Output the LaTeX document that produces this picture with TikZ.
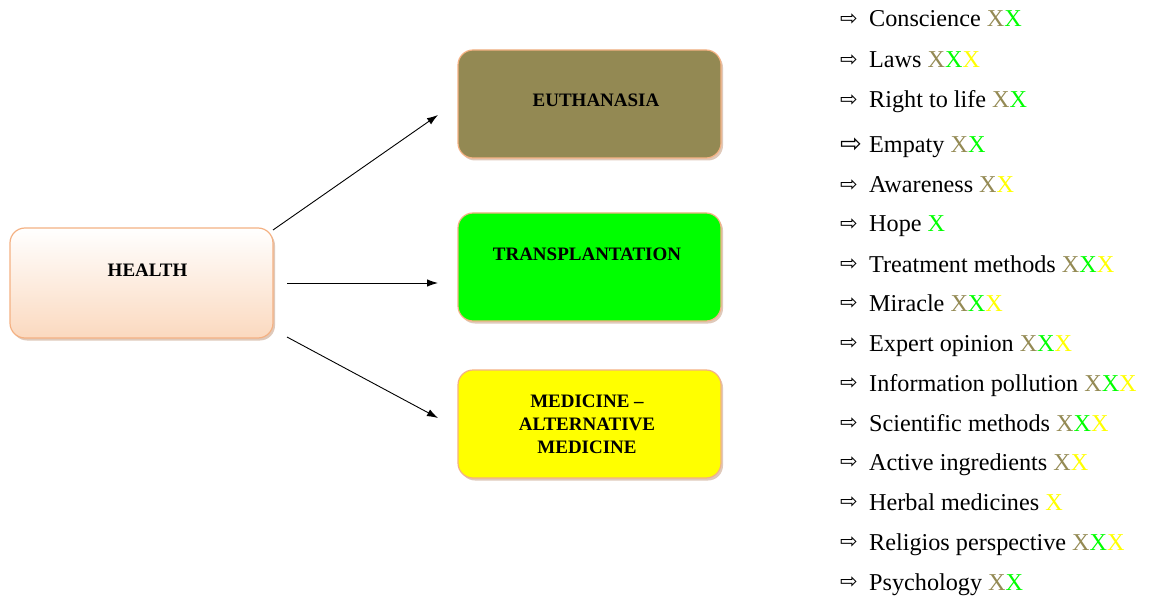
\documentclass[tikz,border=0pt]{standalone}
\usepackage{fontspec}
\setmainfont{Liberation Serif}
\newfontfamily\symfont{DejaVu Sans}
\usetikzlibrary{shadows,arrows.meta}
\definecolor{olivebox}{HTML}{938953}
\definecolor{olivex}{HTML}{948A54}
\definecolor{peachline}{HTML}{F4B183}
\definecolor{peachfill}{HTML}{FBD9BF}
\definecolor{neongreen}{HTML}{00FF00}
\definecolor{neonyellow}{HTML}{FFFF00}
\newcommand{\xo}{\textcolor{olivex}{X}}
\newcommand{\xg}{\textcolor{neongreen}{X}}
\newcommand{\xy}{\textcolor{neonyellow}{X}}
\tikzset{
 topicbox/.style={rounded corners=15pt, draw=peachline, line width=1.2pt,
   minimum width=263pt, minimum height=108pt, inner sep=0pt,
   drop shadow={shadow xshift=2pt, shadow yshift=-2.5pt, opacity=0.55, fill=peachline!60!gray}},
 boxtext/.style={font=\fontsize{19}{23}\selectfont\bfseries, align=center, inner sep=0pt},
 link/.style={line width=0.9pt, -{Latex[length=11pt,width=7.5pt]}},
 itemtext/.style={anchor=base west, inner sep=0pt, font=\fontsize{24.2}{28}\selectfont},
 bulletmark/.style={anchor=center, inner sep=0pt, font=\symfont\fontsize{21}{24}\selectfont},
}
\begin{document}
\begin{tikzpicture}[x=1pt,y=-1pt]
\useasboundingbox (0,0) rectangle (1151,596);
% boxes
\node[topicbox, minimum height=110pt, top color=white, bottom color=peachfill] (health) at (141.5,283) {};
\node[topicbox, fill=olivebox] (euth) at (589.5,104) {};
\node[topicbox, fill=neongreen] (trans) at (589.5,267) {};
\node[topicbox, fill=neonyellow] (med) at (589.5,424) {};
% box texts
\node[boxtext] (healthtxt) at (147.5,270) {HEALTH};
\node[boxtext] (euthtxt) at (596,100) {EUTHANASIA};
\node[boxtext] (transtxt) at (587,254) {TRANSPLANTATION};
\node[boxtext] (medtxt) at (587,424) {MEDICINE –\\ALTERNATIVE\\MEDICINE};
% connectors
\coordinate (s1) at (273,230);
\coordinate (e1) at (438,115);
\coordinate (s2) at (287,283);
\coordinate (e2) at (438,283);
\coordinate (s3) at (287,337);
\coordinate (e3) at (438,418);
\draw[link] (s1) -- (e1);
\draw[link] (s2) -- (e2);
\draw[link] (s3) -- (e3);
% list
\foreach \i/\y/\t in {
 1/27/{Conscience \xo\xg},
 2/68/{Laws \xo\xg\xy},
 3/108/{Right to life \xo\xg},
 5/193/{Awareness \xo\xy},
 6/232/{Hope \xg},
 7/272/{Treatment methods \xo\xg\xy},
 8/311/{Miracle \xo\xg\xy},
 9/351/{Expert opinion \xo\xg\xy},
 10/391/{Information pollution \xo\xg\xy},
 11/431/{Scientific methods \xo\xg\xy},
 12/470/{Active ingredients \xo\xy},
 13/510/{Herbal medicines \xy},
 14/550/{Religios perspective \xo\xg\xy},
 15/590/{Psychology \xo\xg}}{
  \node[bulletmark] (b\i) at (849,\y-7.5) {⇨};
  \node[itemtext] (t\i) at (869,\y) {\t};
}
\node[bulletmark, font=\symfont\fontsize{26}{28}\selectfont] (b4) at (851,145) {⇨};
\node[itemtext] (t4) at (869,153) {Empaty \xo\xg};
\end{tikzpicture}
\end{document}
